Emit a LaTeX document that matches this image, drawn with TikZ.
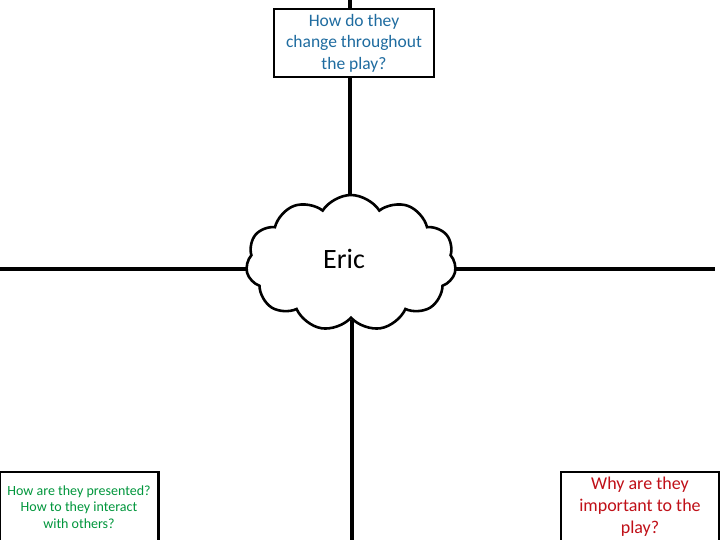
\documentclass[tikz,border=0pt]{standalone}
\usepackage{fontspec}
\setmainfont{Carlito}
\usepackage{xcolor}
\usetikzlibrary{positioning,shapes.symbols,backgrounds}

\definecolor{qblue}{RGB}{31,108,160}
\definecolor{qgreen}{RGB}{0,150,60}
\definecolor{qred}{RGB}{192,16,24}

\begin{document}
\begin{tikzpicture}[x=1pt,y=-1pt,
    question/.style={draw, line width=2.6pt, fill=white, align=center, inner sep=0pt},
    spoke/.style={line width=3.6pt}]
      \useasboundingbox (0,0) rectangle (720,540);

      % Define the nodes on the edges of the page
      \coordinate (topedge) at (350,0);
      \coordinate (leftedge) at (0,269);
      \coordinate (rightedge) at (715,269);
      \coordinate (bottomedge) at (352,540);

      % Define the central cloud
      \node (eric) [cloud, cloud puffs=11, cloud puff arc=115, draw, line width=2.6pt,
            fill=white, minimum width=210pt, minimum height=136pt] at (351,263) {};
      \node (name) at (344,259) {\fontsize{28}{32}\selectfont Eric};

      % Define the question boxes
      \node (change) [question, minimum width=160pt, minimum height=68pt,
            text=qblue, font=\fontsize{17.5}{21.5}\selectfont] at (354,43)
            {How do they\\change throughout\\the play?};
      \node (presented) [question, minimum width=159pt, minimum height=70pt,
            text=qgreen, font=\fontsize{14}{16.5}\selectfont] at (79,507)
            {How are they presented?\\How to they interact\\with others?};
      \node (important) [question, minimum width=158pt, minimum height=70pt,
            text=qred, font=\fontsize{18}{22}\selectfont] at (640,507)
            {Why are they\\important to the\\play?};

      % Draw the spokes behind the cloud and the boxes
      \begin{pgfonlayer}{background}
      \draw[spoke] (topedge) -- (topedge |- eric.north);
      \draw[spoke] (leftedge) -- (leftedge -| eric.west);
      \draw[spoke] (rightedge -| eric.east) -- (rightedge);
      \draw[spoke] (eric.south -| bottomedge) -- (bottomedge);
      \end{pgfonlayer}
\end{tikzpicture}
\end{document}
